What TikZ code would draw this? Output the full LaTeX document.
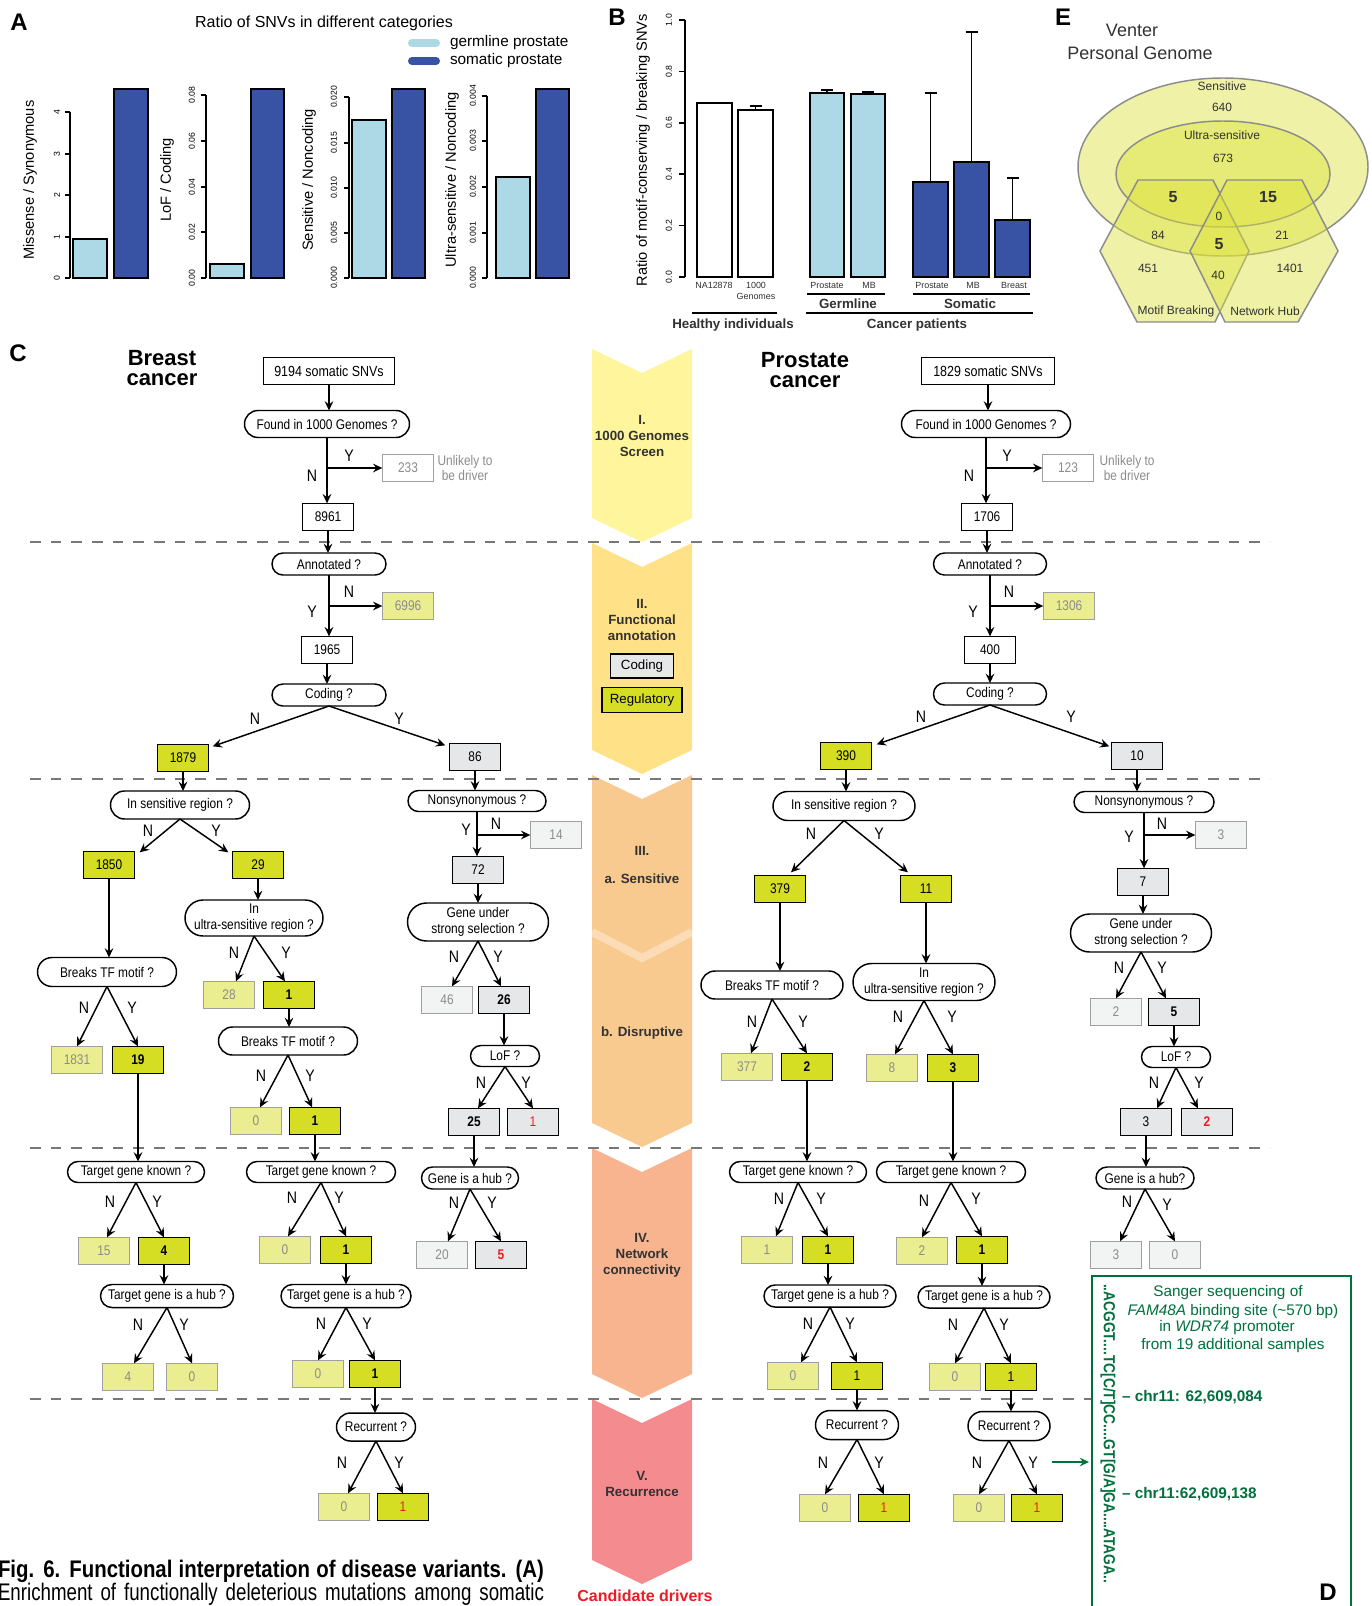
\documentclass[tikz,border=0pt]{standalone}
\usepackage{fontspec}
\setmainfont{Liberation Sans}
\setsansfont{Liberation Sans}
\newfontfamily\cnd[FakeStretch=0.85]{Liberation Sans}
\newfontfamily\capb[FakeStretch=0.85]{Liberation Sans}
\newfontfamily\capr[FakeStretch=0.78]{Liberation Sans}
\newfontfamily\seqf[FakeStretch=0.86]{Liberation Sans}
\usetikzlibrary{shapes.misc,arrows.meta,calc}
\definecolor{satY}{RGB}{214,222,35}
\definecolor{liteY}{RGB}{234,238,145}
\definecolor{grayF}{RGB}{230,231,232}
\definecolor{vliteG}{RGB}{242,243,243}
\definecolor{bordG}{RGB}{160,160,160}
\definecolor{txtG}{RGB}{140,140,140}
\definecolor{redC}{RGB}{237,28,36}
\definecolor{ltBlue}{RGB}{173,216,230}
\definecolor{dkBlue}{RGB}{57,83,164}
\definecolor{grnD}{RGB}{0,112,60}
\definecolor{chI}{RGB}{255,245,157}
\definecolor{chII}{RGB}{255,226,135}
\definecolor{chIII}{RGB}{249,202,143}
\definecolor{chIV}{RGB}{247,180,142}
\definecolor{chV}{RGB}{244,139,143}
\definecolor{venn}{RGB}{220,226,60}
\definecolor{vennB}{RGB}{140,140,140}
\definecolor{dashG}{RGB}{120,120,120}
\definecolor{lblG}{RGB}{50,50,50}
\newcommand\fsz[2]{\fontsize{#1}{#2}\selectfont}
\tikzset{
  nbox/.style={draw=black, line width=1.1pt, fill=white, minimum width=38.5pt, minimum height=20.5pt, font=\cnd\fsz{10.5}{12}},
  sat/.style={nbox, fill=satY},
  lite/.style={nbox, fill=liteY, draw=bordG, text=txtG},
  gbox/.style={nbox, fill=grayF},
  vlite/.style={nbox, fill=vliteG, draw=bordG, text=txtG},
  ghost/.style={nbox, draw=bordG, text=txtG},
  bd/.style={font=\cnd\bfseries\fsz{10.5}{12}},
  q/.style 2 args={rounded rectangle, draw=black, line width=1.1pt, fill=white, minimum width=#1, minimum height=#2, font=\cnd\fsz{10.5}{11.5}, align=center},
  yn/.style={font=\cnd\fsz{12.5}{14}},
  arr/.style={line width=1.1pt, -{Stealth[length=7pt,width=6.5pt,inset=2.5pt]}},
  axl/.style={line width=0.9pt},
  tick/.style={rotate=90, font=\fsz{6.5}{7}},
  plbl/.style={font=\bfseries\fsz{18}{20}},
  ul/.style={align=center, text=txtG, font=\cnd\fsz{10.5}{11.5}},
  mid/.style={font=\bfseries\fsz{10}{12}, align=center, text=lblG},
  dsh/.style={dashG, line width=1.2pt, dash pattern=on 8pt off 7.5pt},
  vshape/.style={fill=venn, fill opacity=0.45, draw=vennB, line width=1.1pt},
  vt/.style={font=\fsz{9}{10}, text=lblG},
  blab/.style={font=\fsz{6.7}{8}, text=lblG},
  bbold/.style={font=\bfseries\fsz{10}{12}, text=lblG},
  gtxt/.style={text=grnD, font=\fsz{11.5}{13}}
}
\begin{document}
\begin{tikzpicture}[x=0.75pt,y=-0.75pt, every node/.style={inner sep=0pt, outer sep=0pt}]
\useasboundingbox (0,0) rectangle (1371,1606);
\clip (0,0) rectangle (1371,1606);
\fill[white] (0,0) rectangle (1371,1606);

% ================= Panel A =================
\node[plbl] (lblA) at (19,22) {A};
\node[font=\fsz{12}{14}] (titA) at (324,23) {Ratio of SNVs in different categories};
\draw[ltBlue, line width=6pt, line cap=round] (412,43) -- (436,43);
\draw[dkBlue, line width=6pt, line cap=round] (412,61) -- (436,61);
\node[anchor=west, font=\fsz{11.5}{13}] (lgA1) at (450,43) {germline prostate};
\node[anchor=west, font=\fsz{11.5}{13}] (lgA2) at (450,61) {somatic prostate};
% sub 1
\draw[fill=ltBlue, line width=1pt] (73,239) rectangle (107,278);
\draw[fill=dkBlue, line width=1pt] (114,89) rectangle (148,278);
\draw[axl] (70,112) -- (70,278);
\foreach \yy/\lab [count=\i] in {278/0,237/1,195/2,154/3,112/4}{\draw[axl] (70,\yy) -- (65,\yy); \node[tick] (taa\i) at (57,\yy) {\lab};}
\node[rotate=90, font=\fsz{11}{13}] (yla1) at (30,180) {Missense / Synonymous};
% sub 2
\draw[fill=ltBlue, line width=1pt] (210,264) rectangle (244,278);
\draw[fill=dkBlue, line width=1pt] (251,89) rectangle (284,278);
\draw[axl] (206,95) -- (206,278);
\foreach \yy/\lab [count=\i] in {278/0.00,232/0.02,187/0.04,141/0.06,95/0.08}{\draw[axl] (206,\yy) -- (201,\yy); \node[tick] (tab\i) at (192,\yy) {\lab};}
\node[rotate=90, font=\fsz{11}{13}] (yla2) at (167,180) {LoF / Coding};
% sub 3
\draw[fill=ltBlue, line width=1pt] (352,120) rectangle (386,278);
\draw[fill=dkBlue, line width=1pt] (392,89) rectangle (425,278);
\draw[axl] (349,97) -- (349,278);
\foreach \yy/\lab [count=\i] in {278/0.000,233/0.005,188/0.010,143/0.015,97/0.020}{\draw[axl] (349,\yy) -- (344,\yy); \node[tick] (tac\i) at (334,\yy) {\lab};}
\node[rotate=90, font=\fsz{11}{13}] (yla3) at (309,180) {Sensitive / Noncoding};
% sub 4
\draw[fill=ltBlue, line width=1pt] (496,177) rectangle (530,278);
\draw[fill=dkBlue, line width=1pt] (536,89) rectangle (569,278);
\draw[axl] (487,96) -- (487,278);
\foreach \yy/\lab [count=\i] in {278/0.000,233/0.001,187/0.002,141/0.003,96/0.004}{\draw[axl] (487,\yy) -- (482,\yy); \node[tick] (tad\i) at (473,\yy) {\lab};}
\node[rotate=90, font=\fsz{11}{13}] (yla4) at (452,180) {Ultra-sensitive / Noncoding};

% ================= Panel B =================
\node[plbl] (lblB) at (617,17) {B};
\draw[line width=1.4pt, fill=white] (697,103) rectangle (732,277);
\draw[line width=1.4pt, fill=white] (738,110) rectangle (773,277);
\draw[line width=1.4pt, fill=ltBlue] (810,93) rectangle (844,277);
\draw[line width=1.4pt, fill=ltBlue] (851,94) rectangle (885,277);
\draw[line width=2pt, fill=dkBlue] (913,182) rectangle (948,277);
\draw[line width=2pt, fill=dkBlue] (954,162) rectangle (989,277);
\draw[line width=2pt, fill=dkBlue] (995,220) rectangle (1030,277);
\draw[line width=1.3pt] (755.5,110) -- (755.5,106) (749.5,106) -- (761.5,106);
\draw[line width=1.3pt] (827,93) -- (827,90) (821,90) -- (833,90);
\draw[line width=1.3pt] (868,94) -- (868,92) (862,92) -- (874,92);
\draw[line width=1.3pt] (930.5,182) -- (930.5,93) (924.5,93) -- (936.5,93);
\draw[line width=1.3pt] (971.5,162) -- (971.5,32) (965.5,32) -- (977.5,32);
\draw[line width=1.3pt] (1012.5,220) -- (1012.5,178) (1006.5,178) -- (1018.5,178);
\draw[line width=1.1pt] (685,20) -- (685,277);
\foreach \yy/\lab [count=\i] in {277/0.0,225.6/0.2,174.2/0.4,122.8/0.6,71.4/0.8,20/1.0}{\draw[line width=1.1pt] (685,\yy) -- (679,\yy); \node[tick] (tb\i) at (669,\yy) {\lab};}
\node[rotate=90, font=\fsz{11}{13}] (ylabB) at (643,150) {Ratio of motif-conserving / breaking SNVs};
\node[blab] (bl1) at (714,285) {NA12878};
\node[blab] (bl2) at (756,285) {1000};
\node[blab] (bl3) at (756,296) {Genomes};
\node[blab] (bl4) at (827,285) {Prostate};
\node[blab] (bl5) at (869,285) {MB};
\node[blab] (bl6) at (932,285) {Prostate};
\node[blab] (bl7) at (973,285) {MB};
\node[blab] (bl8) at (1014,285) {Breast};
\draw[line width=1.3pt] (807,294) -- (885,294);
\draw[line width=1.3pt] (913,294) -- (1030,294);
\draw[line width=1.3pt] (692,313) -- (777,313);
\draw[line width=1.3pt] (806,313) -- (1033,313);
\node[bbold] (germ) at (848,304) {Germline};
\node[bbold] (soma) at (970,304) {Somatic};
\node[bbold] (healthy) at (733,325) {Healthy individuals};
\node[bbold] (cancerp) at (917,325) {Cancer patients};

% ================= Panel E =================
\node[plbl] (lblE) at (1063,17) {E};
\node[font=\fsz{13.5}{16}, text=lblG] (venter) at (1132,30) {Venter};
\node[font=\fsz{13.5}{16}, text=lblG] (pgen) at (1140,53) {Personal Genome};
\draw[vshape] (1223,167) ellipse [x radius=145, y radius=89];
\draw[vshape] (1223,174) ellipse [x radius=107, y radius=53];
\draw[vshape] (1138,180) -- (1213,180) -- (1249,251) -- (1215,322) -- (1137,322) -- (1100,251) -- cycle;
\draw[vshape] (1227,180) -- (1302,180) -- (1338,251) -- (1298,322) -- (1225,322) -- (1190,251) -- cycle;
\node[vt] (vs1) at (1222,86) {Sensitive};
\node[vt] (vs2) at (1222,107) {640};
\node[vt] (vs3) at (1222,135) {Ultra-sensitive};
\node[vt] (vs4) at (1223,158) {673};
\node[font=\bfseries\fsz{12}{14}, text=lblG] (vs5) at (1173,197) {5};
\node[font=\bfseries\fsz{12}{14}, text=lblG] (vs6) at (1268,197) {15};
\node[vt] (vs7) at (1219,216) {0};
\node[vt] (vs8) at (1158,235) {84};
\node[vt] (vs9) at (1282,235) {21};
\node[font=\bfseries\fsz{12}{14}, text=lblG] (vs10) at (1219,244) {5};
\node[vt] (vs11) at (1148,268) {451};
\node[vt] (vs12) at (1290,268) {1401};
\node[vt] (vs13) at (1218,275) {40};
\node[vt] (vs14) at (1176,311) {Motif Breaking};
\node[vt] (vs15) at (1265,311) {Network Hub};

% ================= Middle chevrons =================
\fill[chI] (592,349) -- (642,373) -- (692,349) -- (692,518) -- (642,542) -- (592,518) -- cycle;
\fill[chII] (592,543) -- (642,567) -- (692,543) -- (692,750) -- (642,774) -- (592,750) -- cycle;
\fill[chIII] (592,775) -- (642,799) -- (692,775) -- (692,1123) -- (642,1147) -- (592,1123) -- cycle;
\draw[white, opacity=0.35, line width=6pt] (592,932) -- (642,958) -- (692,932);
\fill[chIV] (592,1148) -- (642,1172) -- (692,1148) -- (692,1374) -- (642,1398) -- (592,1374) -- cycle;
\fill[chV] (592,1399) -- (642,1423) -- (692,1399) -- (692,1560) -- (642,1584) -- (592,1560) -- cycle;
\node[mid] (sI) at (642,436) {I.\\1000 Genomes\\Screen};
\node[mid] (sII) at (642,620) {II.\\Functional\\annotation};
\node[draw, fill=grayF, line width=1.1pt, minimum width=47.25pt, minimum height=18pt, font=\fsz{10}{12}] (sCod) at (642,666) {Coding};
\node[draw, fill=satY, line width=1.1pt, minimum width=60pt, minimum height=18.75pt, font=\fsz{10}{12}] (sReg) at (642,700) {Regulatory};
\node[mid] (sIIIa) at (642,851) {III.};
\node[mid] (sIIIb) at (642,879) {a. Sensitive};
\node[mid] (sIIIc) at (642,1033) {b. Disruptive};
\node[mid] (sIV) at (642,1255) {IV.\\Network\\connectivity};
\node[mid] (sV) at (642,1484) {V.\\Recurrence};
\node[font=\bfseries\fsz{12}{14}, text=redC] (cand) at (645,1596) {Candidate drivers};

% dashed separators
\draw[dsh] (30,542) -- (1270,542);
\draw[dsh] (30,779) -- (1270,779);
\draw[dsh] (30,1148) -- (1270,1148);
\draw[dsh] (30,1399) -- (1092,1399);

% ================= Panel C titles =================
\node[plbl] (lblC) at (18,353) {C};
\node[font=\bfseries\fsz{16.5}{15}, align=center] (brT) at (162,368) {Breast\\cancer};
\node[font=\bfseries\fsz{16.5}{15}, align=center] (prT) at (805,370) {Prostate\\cancer};

% ================= Breast tree =================
\node[nbox, minimum width=98.25pt, font=\cnd\fsz{11}{12}] (b0) at (329,371) {9194 somatic SNVs};
\node[q={123.75pt}{20.25pt}] (bq1) at (327,424) {Found in 1000 Genomes ?};
\node[ghost] (b233) at (408,468) {233};
\node[ul] (bul) at (465,468) {Unlikely to\\be driver};
\node[nbox] (b8961) at (328,517) {8961};
\node[q={85.5pt}{16.5pt}] (bq2) at (329,564) {Annotated ?};
\node[lite] (b6996) at (408,606) {6996};
\node[nbox] (b1965) at (327,650) {1965};
\node[q={85.5pt}{16.5pt}] (bq3) at (329,695) {Coding ?};
\node[sat] (b1879) at (183,758) {1879};
\node[gbox] (b86) at (475,757) {86};
\node[q={104.25pt}{21pt}] (bq4) at (180,805) {In sensitive region ?};
\node[sat] (b1850) at (109,865) {1850};
\node[sat] (b29) at (258,865) {29};
\node[q={104.25pt}{21.75pt}] (bq5) at (107,972) {Breaks TF motif ?};
\node[lite] (b1831) at (77,1060) {1831};
\node[sat,bd] (b19) at (138,1060) {19};
\node[q={103.5pt}{27pt}] (bq6) at (254,918) {In\\ultra-sensitive region ?};
\node[lite] (b28) at (229,995) {28};
\node[sat,bd] (b1a) at (289,995) {1};
\node[q={104.25pt}{21pt}] (bq7) at (288,1041) {Breaks TF motif ?};
\node[lite] (b0a) at (256,1121) {0};
\node[sat,bd] (b1b) at (315,1121) {1};
\node[q={103.5pt}{15.75pt}] (bq8) at (477,801) {Nonsynonymous ?};
\node[vlite] (b14) at (556,835) {14};
\node[gbox] (b72) at (478,870) {72};
\node[q={105.75pt}{28.5pt}] (bq9) at (478,922) {Gene under\\strong selection ?};
\node[vlite] (b46) at (447,1000) {46};
\node[gbox,bd] (b26) at (504,1000) {26};
\node[q={51.75pt}{15.75pt}] (bq10) at (505,1056) {LoF ?};
\node[gbox,bd] (b25) at (474,1122) {25};
\node[gbox,text=redC] (b1c) at (533,1122) {1};
\node[q={102.75pt}{15.75pt}] (bq11) at (136,1172) {Target gene known ?};
\node[lite] (b15) at (104,1251) {15};
\node[sat,bd] (b4) at (164,1251) {4};
\node[q={99.75pt}{17.25pt}] (bq12) at (167,1296) {Target gene is a hub ?};
\node[lite] (b4b) at (128,1377) {4};
\node[lite] (b0b) at (192,1377) {0};
\node[q={111.75pt}{15.75pt}] (bq13) at (321,1172) {Target gene known ?};
\node[lite] (b0c) at (285,1250) {0};
\node[sat,bd] (b1d) at (346,1250) {1};
\node[q={97.5pt}{17.25pt}] (bq14) at (346,1296) {Target gene is a hub ?};
\node[lite] (b0d) at (318,1374) {0};
\node[sat,bd] (b1e) at (375,1374) {1};
\node[q={59.25pt}{21pt}] (bq15) at (376,1427) {Recurrent ?};
\node[lite] (b0e) at (344,1507) {0};
\node[sat,text=redC] (b1f) at (403,1507) {1};
\node[q={72.75pt}{16.5pt}] (bq16) at (470,1178) {Gene is a hub ?};
\node[vlite] (b20) at (442,1255) {20};
\node[gbox,bd,text=redC] (b5) at (501,1255) {5};

\draw[arr] (b0.south) -- (b0.south |- bq1.north);
\draw[arr] (bq1.south) -- (bq1.south |- b8961.north);
\draw[arr] (bq1.south |- b233.west) -- (b233.west);
\draw[arr] (b8961.south) -- (b8961.south |- bq2.north);
\draw[arr] (bq2.south) -- (bq2.south |- b1965.north);
\draw[arr] (bq2.south |- b6996.west) -- (b6996.west);
\draw[arr] (b1965.south) -- (b1965.south |- bq3.north);
\draw[arr] (bq3.south) -- ($(b1879.north east)+(4,2)$);
\draw[arr] (bq3.south) -- ($(b86.north west)+(-4,2)$);
\draw[arr] (b1879.south) -- (b1879.south |- bq4.north);
\draw[arr] (bq4.south) -- ($(b1850.north east)+(5,1)$);
\draw[arr] (bq4.south) -- ($(b29.north west)+(-4,1)$);
\draw[arr] (b1850.south) -- (b1850.south |- bq5.north);
\draw[arr] (bq5.south) -- (b1831.north);
\draw[arr] (bq5.south) -- (b19.north);
\draw[arr] (b29.south) -- (b29.south |- bq6.north);
\draw[arr] (bq6.south) -- ($(b28.north)+(7,0)$);
\draw[arr] (bq6.south) -- ($(b1a.north)+(-4,0)$);
\draw[arr] (b1a.south) -- (b1a.south |- bq7.north);
\draw[arr] (bq7.south) -- ($(b0a.north)+(4,0)$);
\draw[arr] (bq7.south) -- ($(b1b.north)+(-3,0)$);
\draw[arr] (b19.south) -- (b19.south |- bq11.north);
\draw[arr] (b86.south) -- (b86.south |- bq8.north);
\draw[arr] (bq8.south) -- (bq8.south |- b72.north);
\draw[arr] (bq8.south |- b14.west) -- (b14.west);
\draw[arr] (b72.south) -- (b72.south |- bq9.north);
\draw[arr] (bq9.south) -- ($(b46.north)+(5,0)$);
\draw[arr] (bq9.south) -- ($(b26.north)+(-3,0)$);
\draw[arr] (b26.south) -- (b26.south |- bq10.north);
\draw[arr] (bq10.south) -- ($(b25.north)+(4,0)$);
\draw[arr] (bq10.south) -- (b1c.north);
\draw[arr] (b25.south) -- (b25.south |- bq16.north);
\draw[arr] (bq16.south) -- ($(b20.north)+(6,0)$);
\draw[arr] (bq16.south) -- (b5.north);
\draw[arr] (b1b.south) -- (b1b.south |- bq13.north);
\draw[arr] (bq11.south) -- ($(b15.north)+(3,0)$);
\draw[arr] (bq11.south) -- (b4.north);
\draw[arr] (b4.south) -- (b4.south |- bq12.north);
\draw[arr] (bq12.south) -- ($(b4b.north)+(6,0)$);
\draw[arr] (bq12.south) -- (b0b.north);
\draw[arr] (bq13.south) -- ($(b0c.north)+(3,0)$);
\draw[arr] (bq13.south) -- (b1d.north);
\draw[arr] (b1d.south) -- (b1d.south |- bq14.north);
\draw[arr] (bq14.south) -- (b0d.north);
\draw[arr] (bq14.south) -- (b1e.north);
\draw[arr] (b1e.south) -- (b1e.south |- bq15.north);
\draw[arr] (bq15.south) -- ($(b0e.north)+(4,0)$);
\draw[arr] (bq15.south) -- (b1f.north);

\foreach \xx/\yy/\t [count=\i] in {349/456/Y,312/476/N,349/592/N,312/612/Y,255/719/N,399/719/Y,148/831/N,216/831/Y,84/1008/N,132/1008/Y,234/953/N,286/953/Y,261/1076/N,310/1076/Y,466/830/Y,496/824/N,454/957/N,498/957/Y,481/1083/N,526/1083/Y,110/1202/N,157/1202/Y,138/1325/N,184/1325/Y,292/1198/N,339/1198/Y,321/1324/N,367/1324/Y,342/1463/N,399/1463/Y,454/1203/N,492/1203/Y}{\node[yn] (bl\i) at (\xx,\yy) {\t};}

% ================= Prostate tree =================
\node[nbox, minimum width=99.75pt, font=\cnd\fsz{11}{12}] (p0) at (988,371) {1829 somatic SNVs};
\node[q={126.75pt}{20.25pt}] (pq1) at (986,424) {Found in 1000 Genomes ?};
\node[ghost] (p123) at (1068,468) {123};
\node[ul] (pul) at (1127,468) {Unlikely to\\be driver};
\node[nbox] (p1706) at (987,517) {1706};
\node[q={84.75pt}{16.5pt}] (pq2) at (990,564) {Annotated ?};
\node[lite] (p1306) at (1069,606) {1306};
\node[nbox] (p400) at (990,650) {400};
\node[q={84.75pt}{16.5pt}] (pq3) at (990,694) {Coding ?};
\node[sat] (p390) at (846,756) {390};
\node[gbox] (p10) at (1137,756) {10};
\node[q={106.5pt}{21.75pt}] (pq4) at (844,806) {In sensitive region ?};
\node[sat] (p379) at (780,889) {379};
\node[sat] (p11) at (926,889) {11};
\node[q={106.5pt}{21pt}] (pq5) at (772,985) {Breaks TF motif ?};
\node[lite] (p377) at (747,1067) {377};
\node[sat,bd] (p2) at (807,1067) {2};
\node[q={106.5pt}{27.75pt}] (pq6) at (924,982) {In\\ultra-sensitive region ?};
\node[lite] (p8) at (892,1068) {8};
\node[sat,bd] (p3) at (953,1068) {3};
\node[q={105pt}{15.75pt}] (pq7) at (1144,802) {Nonsynonymous ?};
\node[vlite] (p3a) at (1221,835) {3};
\node[gbox] (p7) at (1143,882) {7};
\node[q={105.75pt}{28.5pt}] (pq8) at (1141,933) {Gene under\\strong selection ?};
\node[vlite] (p2a) at (1116,1012) {2};
\node[gbox,bd] (p5) at (1174,1012) {5};
\node[q={51.75pt}{15.75pt}] (pq9) at (1176,1057) {LoF ?};
\node[gbox] (p3b) at (1146,1122) {3};
\node[gbox,bd,text=redC] (p2b) at (1207,1122) {2};
\node[q={102.75pt}{15.75pt}] (pq10) at (798,1172) {Target gene known ?};
\node[lite] (p1a) at (767,1250) {1};
\node[sat,bd] (p1b) at (828,1250) {1};
\node[q={99pt}{16.5pt}] (pq11) at (830,1296) {Target gene is a hub ?};
\node[lite] (p0a) at (793,1376) {0};
\node[sat] (p1c) at (857,1376) {1};
\node[q={62.25pt}{21.75pt}] (pq12) at (857,1425) {Recurrent ?};
\node[lite] (p0b) at (825,1508) {0};
\node[sat,text=redC] (p1d) at (884,1508) {1};
\node[q={111.75pt}{15.75pt}] (pq13) at (951,1172) {Target gene known ?};
\node[lite] (p2c) at (922,1251) {2};
\node[sat,bd] (p1e) at (982,1250) {1};
\node[q={99pt}{16.5pt}] (pq14) at (984,1297) {Target gene is a hub ?};
\node[lite] (p0c) at (955,1377) {0};
\node[sat] (p1f) at (1011,1377) {1};
\node[q={61.5pt}{21.75pt}] (pq15) at (1009,1426) {Recurrent ?};
\node[lite] (p0d) at (979,1508) {0};
\node[sat,text=redC] (p1g) at (1037,1508) {1};
\node[q={73.5pt}{16.5pt}] (pq16) at (1145,1178) {Gene is a hub?};
\node[vlite] (p3c) at (1116,1255) {3};
\node[vlite] (p0e) at (1175,1255) {0};

\draw[arr] (p0.south) -- (p0.south |- pq1.north);
\draw[arr] (pq1.south) -- (pq1.south |- p1706.north);
\draw[arr] (pq1.south |- p123.west) -- (p123.west);
\draw[arr] (p1706.south) -- (p1706.south |- pq2.north);
\draw[arr] (pq2.south) -- (pq2.south |- p400.north);
\draw[arr] (pq2.south |- p1306.west) -- (p1306.west);
\draw[arr] (p400.south) -- (p400.south |- pq3.north);
\draw[arr] (pq3.south) -- ($(p390.north east)+(5,2)$);
\draw[arr] (pq3.south) -- ($(p10.north west)+(-2,4)$);
\draw[arr] (p390.south) -- (p390.south |- pq4.north);
\draw[arr] (pq4.south) -- ($(p379.north)+(11,-3)$);
\draw[arr] (pq4.south) -- ($(p11.north)+(-18,-3)$);
\draw[arr] (p379.south) -- (p379.south |- pq5.north);
\draw[arr] (pq5.south) -- ($(p377.north)+(4,0)$);
\draw[arr] (pq5.south) -- (p2.north);
\draw[arr] (p11.south) -- (p11.south |- pq6.north);
\draw[arr] (pq6.south) -- ($(p8.north)+(3,0)$);
\draw[arr] (pq6.south) -- (p3.north);
\draw[arr] (p2.south) -- (p2.south |- pq10.north);
\draw[arr] (p3.south) -- (p3.south |- pq13.north);
\draw[arr] (p10.south) -- (p10.south |- pq7.north);
\draw[arr] (pq7.south) -- (pq7.south |- p7.north);
\draw[arr] (pq7.south |- p3a.west) -- (p3a.west);
\draw[arr] (p7.south) -- (p7.south |- pq8.north);
\draw[arr] (pq8.south) -- (p2a.north);
\draw[arr] (pq8.south) -- ($(p5.north)+(-8,0)$);
\draw[arr] (p5.south) -- (p5.south |- pq9.north);
\draw[arr] (pq9.south) -- ($(p3b.north)+(11,0)$);
\draw[arr] (pq9.south) -- ($(p2b.north)+(-9,0)$);
\draw[arr] (p3b.south) -- (p3b.south |- pq16.north);
\draw[arr] (pq16.south) -- ($(p3c.north)+(4,0)$);
\draw[arr] (pq16.south) -- (p0e.north);
\draw[arr] (pq10.south) -- ($(p1a.north)+(9,0)$);
\draw[arr] (pq10.south) -- (p1b.north);
\draw[arr] (p1b.south) -- (p1b.south |- pq11.north);
\draw[arr] (pq11.south) -- ($(p0a.north)+(8,0)$);
\draw[arr] (pq11.south) -- (p1c.north);
\draw[arr] (p1c.south) -- (p1c.south |- pq12.north);
\draw[arr] (pq12.south) -- (p0b.north);
\draw[arr] (pq12.south) -- (p1d.north);
\draw[arr] (pq13.south) -- (p2c.north);
\draw[arr] (pq13.south) -- (p1e.north);
\draw[arr] (p1e.south) -- (p1e.south |- pq14.north);
\draw[arr] (pq14.south) -- (p0c.north);
\draw[arr] (pq14.south) -- (p1f.north);
\draw[arr] (p1f.south) -- (p1f.south |- pq15.north);
\draw[arr] (pq15.south) -- (p0d.north);
\draw[arr] (pq15.south) -- (p1g.north);

\foreach \xx/\yy/\t [count=\i] in {1007/456/Y,969/476/N,1009/592/N,973/612/Y,921/717/N,1071/717/Y,811/834/N,879/834/Y,752/1022/N,803/1022/Y,898/1017/N,952/1017/Y,1162/824/N,1129/837/Y,1119/968/N,1162/968/Y,1154/1083/N,1199/1083/Y,779/1199/N,821/1199/Y,808/1324/N,850/1324/Y,823/1463/N,879/1463/Y,924/1201/N,976/1199/Y,953/1325/N,1004/1325/Y,977/1463/N,1033/1463/Y,1127/1202/N,1167/1205/Y}{\node[yn] (pl\i) at (\xx,\yy) {\t};}

% ================= Panel D =================
\draw[grnD, line width=1.1pt] (1092,1276) rectangle (1351,1640);
\node[rotate=-90, anchor=west, text=grnD, font=\seqf\bfseries\fsz{12}{14}] (seq) at (1108,1284) {..ACGGT....TC[C/T]CC....GT[G/A]GA....ATAGA..};
\node[gtxt] (d1) at (1228,1293) {Sanger sequencing of};
\node[gtxt] (d2) at (1233,1312) {\textit{FAM48A} binding site (\textasciitilde570 bp)};
\node[gtxt] (d3) at (1227,1328) {in \textit{WDR74} promoter};
\node[gtxt] (d4) at (1233,1346) {from 19 additional samples};
\node[anchor=west, text=grnD, font=\bfseries\fsz{11.5}{13}] (chr1) at (1122,1397) {-- chr11: 62,609,084};
\node[anchor=west, text=grnD, font=\bfseries\fsz{11.5}{13}] (chr2) at (1122,1494) {-- chr11:62,609,138};
\node[plbl] (lblD) at (1328,1592) {D};
\coordinate (ga1) at (1052,1462);
\coordinate (ga2) at (1089,1462);
\draw[grnD, line width=1.1pt, -{Stealth[length=7pt,width=6.5pt,inset=2.5pt]}] (ga1) -- (ga2);

% ================= Caption =================
\node[anchor=base west, font=\capb\bfseries\fsz{18}{20}] (cap1) at (-2,1577) {\makebox[409.5pt][s]{Fig. 6. Functional interpretation of disease variants. (A)}};
\node[anchor=base west, font=\capr\fsz{18}{20}] (cap2) at (-2,1600) {\makebox[409.5pt][s]{Enrichment of functionally deleterious mutations among somatic}};
\end{tikzpicture}
\end{document}
